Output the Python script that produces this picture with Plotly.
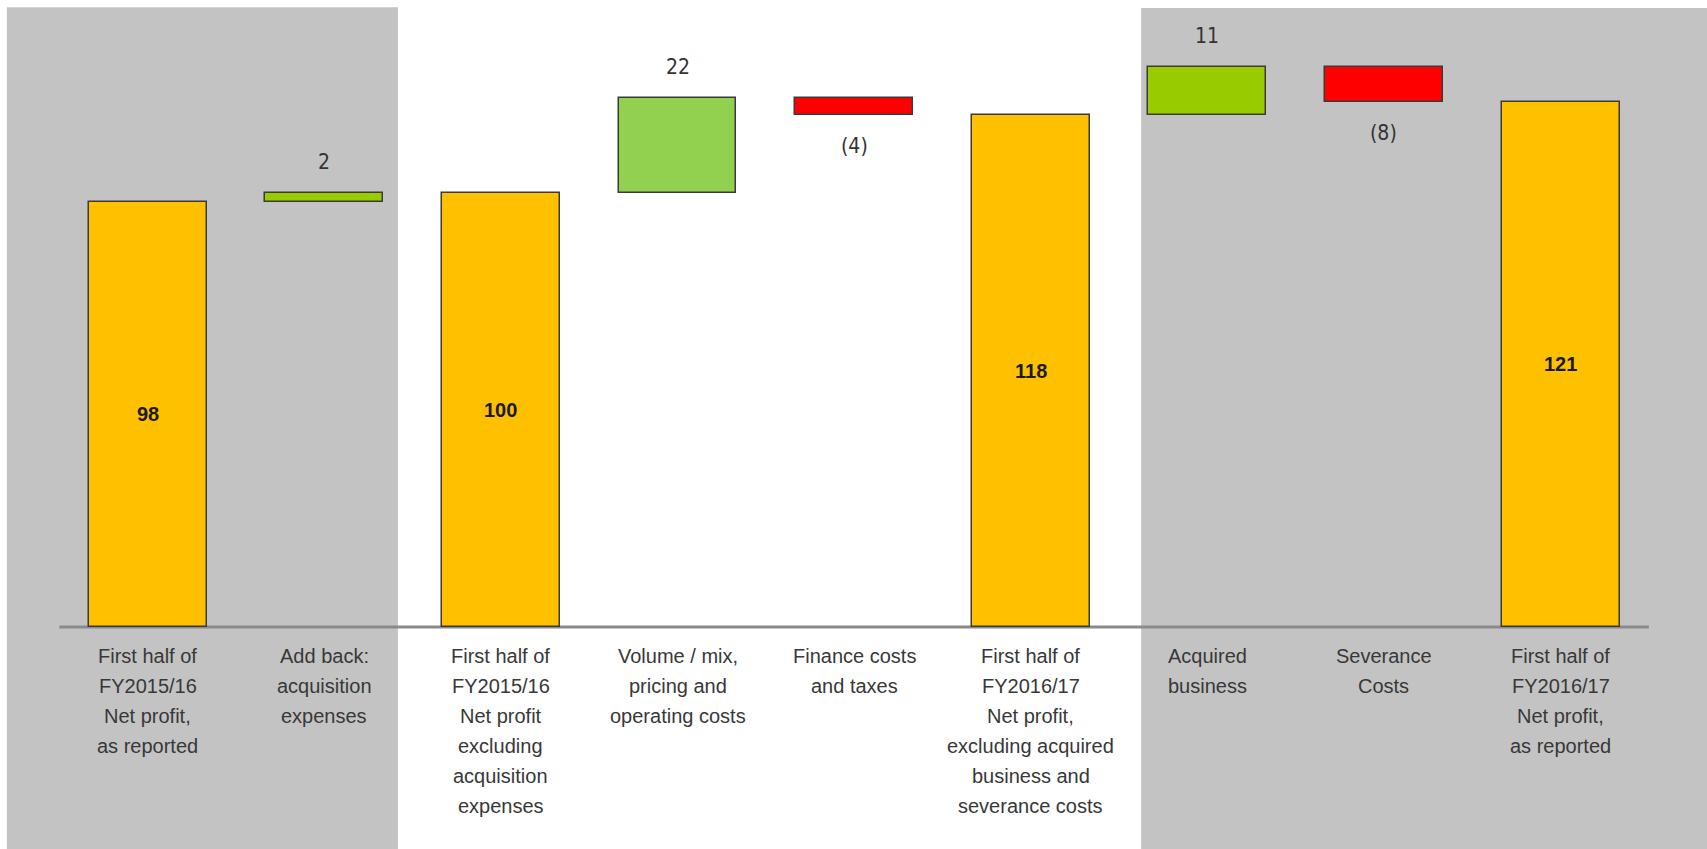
import plotly.graph_objects as go

# Net profit bridge: first half FY2015/16 -> first half FY2016/17
categories = [
    "First half of<br>FY2015/16<br>Net profit,<br>as reported",
    "Add back:<br>acquisition<br>expenses",
    "First half of<br>FY2015/16<br>Net profit<br>excluding<br>acquisition<br>expenses",
    "Volume / mix,<br>pricing and<br>operating costs",
    "Finance costs<br>and taxes",
    "First half of<br>FY2016/17<br>Net profit,<br>excluding acquired<br>business and<br>severance costs",
    "Acquired<br>business",
    "Severance<br>Costs",
    "First half of<br>FY2016/17<br>Net profit,<br>as reported",
]
values = [98, 2, 100, 22, -4, 118, 11, -8, 121]
is_total = [True, False, True, False, False, True, False, False, True]
value_labels = ["98", "2", "100", "22", "(4)", "118", "11", "(8)", "121"]
bar_colors = ["#FFC000", "#99CC00", "#FFC000", "#92D050", "#FF0000",
              "#FFC000", "#99CC00", "#FF0000", "#FFC000"]

xpos = list(range(len(values)))

# running totals -> bar bases
bases, heights = [], []
running = 0
for v, tot in zip(values, is_total):
    if tot:
        bases.append(0)
        heights.append(v)
        running = v
    else:
        bases.append(running)
        heights.append(v)
        running += v

fig = go.Figure()
fig.add_trace(go.Bar(
    x=xpos, y=heights, base=bases, width=0.668,
    marker=dict(color=bar_colors, line=dict(color="#3a3a3a", width=1.5)),
    hoverinfo="skip", showlegend=False,
))

shapes = [
    # shaded panels behind the chart
    dict(type="rect", xref="x", yref="y", x0=-0.797, x1=1.417, y0=-60, y1=142.8,
         fillcolor="#C3C3C3", line=dict(width=0), layer="below"),
    dict(type="rect", xref="x", yref="y", x0=5.625, x1=9.5, y0=-60, y1=142.6,
         fillcolor="#C3C3C3", line=dict(width=0), layer="below"),
    # baseline
    dict(type="line", xref="x", yref="y", x0=xpos[0] - 0.5, x1=xpos[-1] + 0.5,
         y0=0, y1=0, line=dict(color="#8a8a8a", width=3), layer="below"),
]

annotations = []
label_font = dict(family="Liberation Sans, Arial, sans-serif", size=20, color="#383838")
for x, cat in zip(xpos, categories):
    for k, line in enumerate(cat.split("<br>")):
        annotations.append(dict(
            x=x, y=0, xref="x", yref="y", text=line, showarrow=False,
            yanchor="middle", xanchor="center", yshift=-29 - 30 * k,
            font=label_font,
        ))

for x, b, h, tot, lab in zip(xpos, bases, heights, is_total, value_labels):
    if tot:
        annotations.append(dict(
            x=x, y=b + h / 2, xref="x", yref="y", text="<b>" + lab + "</b>",
            showarrow=False, yanchor="middle",
            font=dict(family="Liberation Sans, Arial, sans-serif", size=20, color="#1a1a1a"),
        ))
    else:
        top = max(b, b + h)
        bot = min(b, b + h)
        annotations.append(dict(
            x=x, y=top if h > 0 else bot, xref="x", yref="y", text=lab,
            showarrow=False, yanchor="middle",
            yshift=31 if h > 0 else -31,
            font=dict(family="Liberation Sans Narrow, DejaVu Sans Condensed, Liberation Sans, sans-serif",
                      size=21, color="#333333"),
        ))

fig.update_layout(
    width=1707, height=849,
    margin=dict(l=0, r=0, t=0, b=0),
    paper_bgcolor="white", plot_bgcolor="white",
    xaxis=dict(range=[-0.836, 8.829], visible=False, fixedrange=True),
    yaxis=dict(range=[-51.15, 144.47], visible=False, fixedrange=True),
    shapes=shapes, annotations=annotations, bargap=0,
)

fig.write_html("out.html")
